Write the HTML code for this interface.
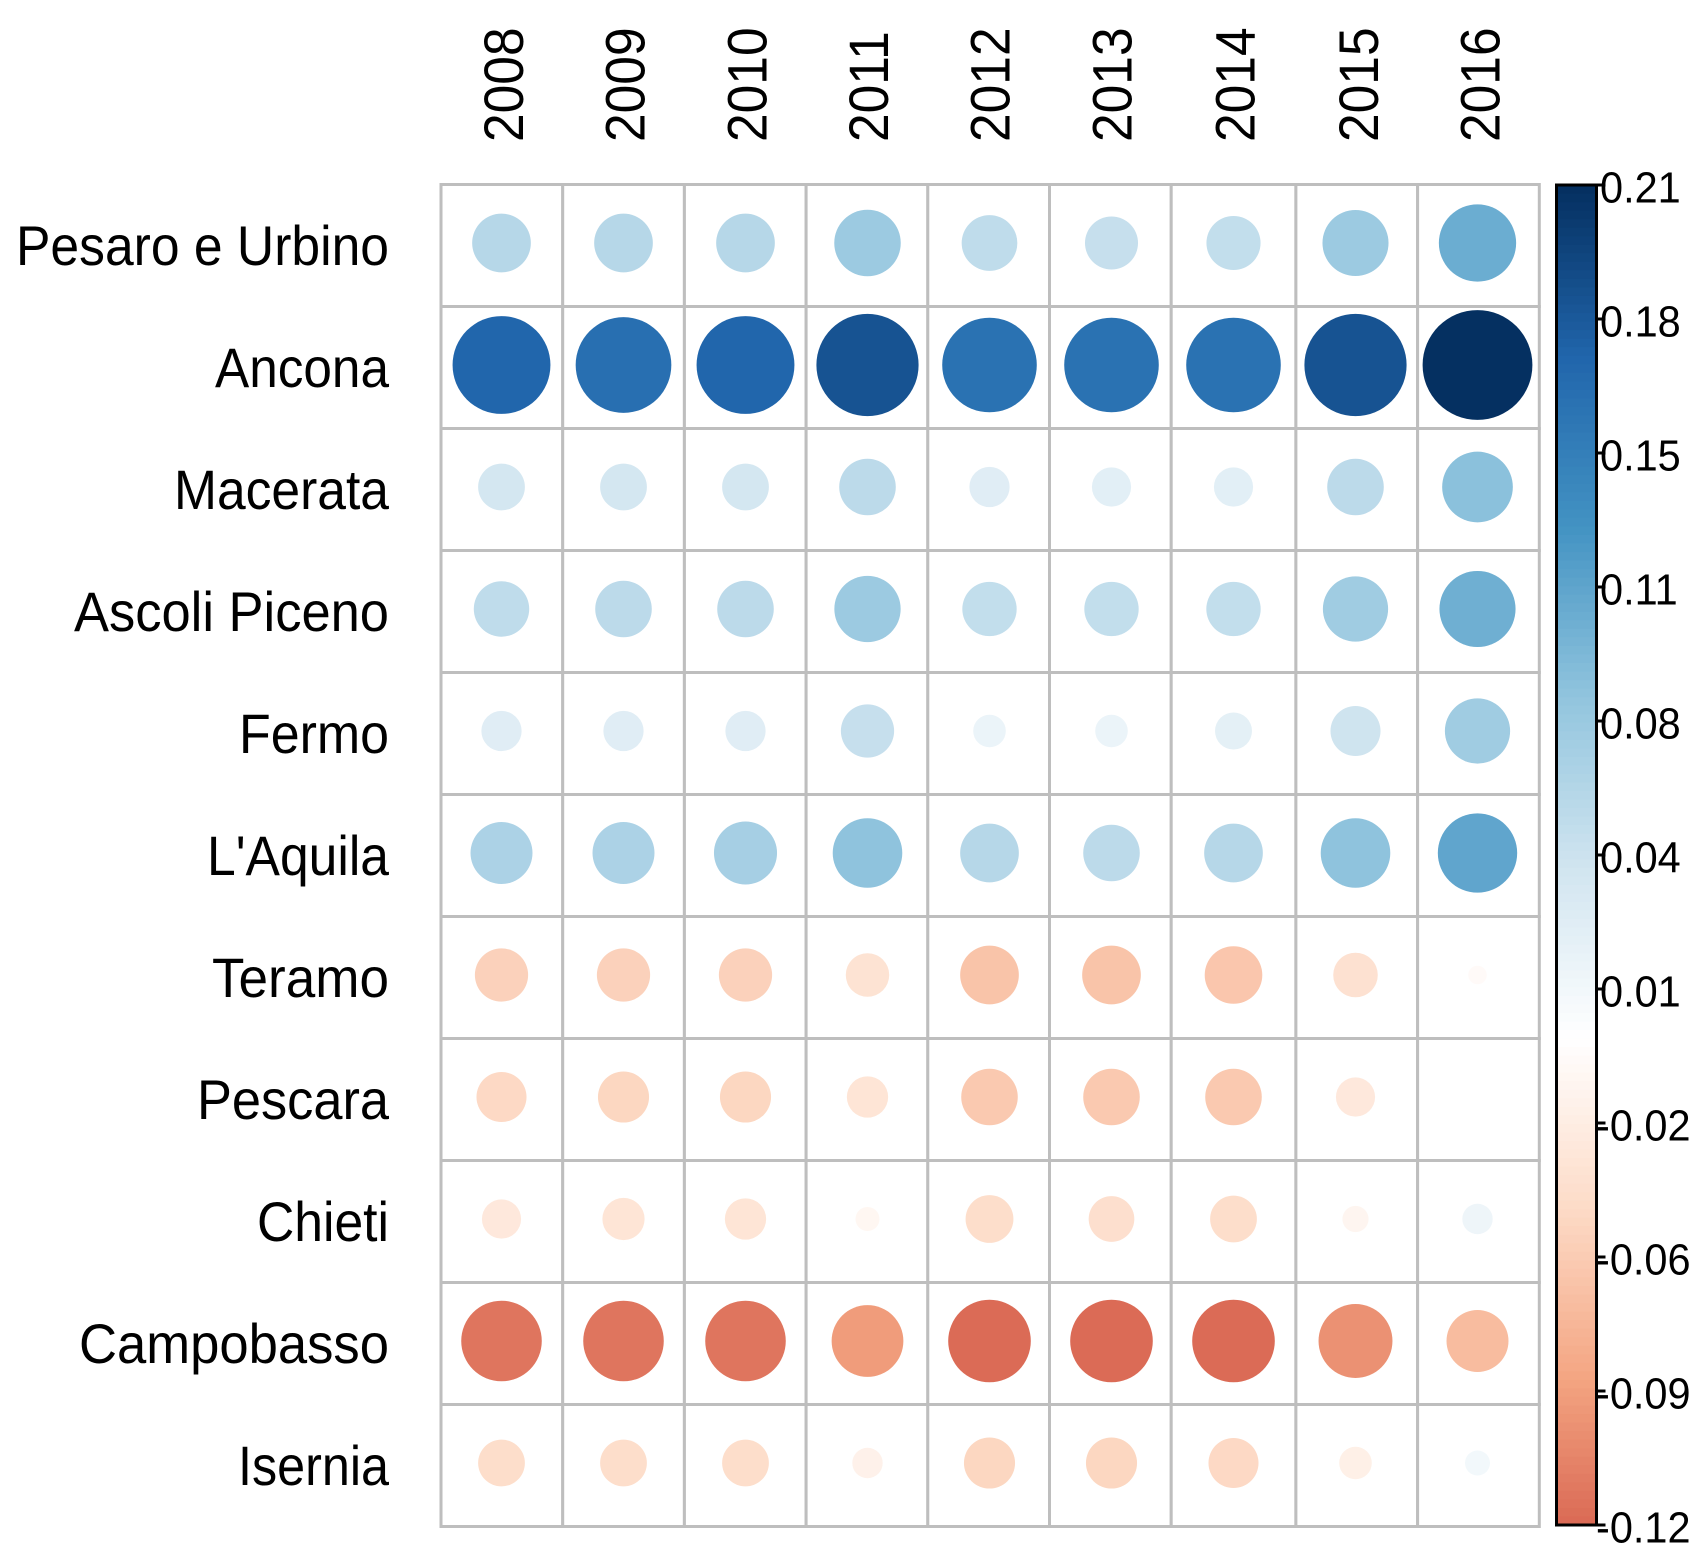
<!DOCTYPE html>
<html>
<head>
<meta charset="utf-8">
<title>Correlation plot by province and year</title>
<style>
html,body{margin:0;padding:0;background:#fff;}
svg{display:block;font-family:"Liberation Sans",Arial,sans-serif;fill:#000;}
</style>
</head>
<body>
<svg id="chart" xmlns="http://www.w3.org/2000/svg" width="1702" height="1560" viewBox="0 0 1702 1560"></svg>
<script>
const years = ["2008","2009","2010","2011","2012","2013","2014","2015","2016"];
const provinces = ["Pesaro e Urbino","Ancona","Macerata","Ascoli Piceno","Fermo","L'Aquila","Teramo","Pescara","Chieti","Campobasso","Isernia"];
const pesaroValues = [0.0600,0.0600,0.0600,0.0770,0.0540,0.0490,0.0510,0.0760,0.1040];
const anconaValues = [0.1668,0.1594,0.1668,0.1819,0.1558,0.1558,0.1558,0.1819,0.2100];
const macerataValues = [0.0381,0.0381,0.0381,0.0557,0.0282,0.0267,0.0267,0.0557,0.0870];
const ascoliValues = [0.0535,0.0557,0.0557,0.0766,0.0515,0.0515,0.0515,0.0741,0.1009];
const fermoValues = [0.0282,0.0282,0.0282,0.0494,0.0185,0.0185,0.0238,0.0436,0.0741];
const aquilaValues = [0.0669,0.0669,0.0693,0.0843,0.0600,0.0557,0.0600,0.0843,0.1097];
const teramoValues = [-0.0494,-0.0494,-0.0494,-0.0329,-0.0600,-0.0600,-0.0578,-0.0346,-0.0060];
const pescaraValues = [-0.0436,-0.0455,-0.0455,-0.0297,-0.0557,-0.0557,-0.0557,-0.0267,0];
const chietiValues = [-0.0267,-0.0310,-0.0297,-0.0100,-0.0399,-0.0363,-0.0381,-0.0119,0.0161];
const campobassoValues = [-0.1130,-0.1130,-0.1130,-0.0897,-0.1189,-0.1189,-0.1189,-0.0952,-0.0669];
const iserniaValues = [-0.0381,-0.0381,-0.0381,-0.0161,-0.0455,-0.0455,-0.0436,-0.0185,0.0109];
const seriesByRow = [pesaroValues,anconaValues,macerataValues,ascoliValues,fermoValues,aquilaValues,teramoValues,pescaraValues,chietiValues,campobassoValues,iserniaValues];
const legendTickValues = [0.21,0.177,0.144,0.111,0.078,0.045,0.012,-0.021,-0.054,-0.087,-0.12];
const legendTickLabels = ["0.21","0.18","0.15","0.11","0.08","0.04","0.01","-0.02","-0.06","-0.09","-0.12"];
const colorStops = ["#67001F","#B2182B","#D6604D","#F4A582","#FDDBC7","#FFFFFF","#D1E5F0","#92C5DE","#4393C3","#2166AC","#053061"];

const NS = "http://www.w3.org/2000/svg";
const svg = document.getElementById("chart");
const gridLeft = 441, gridTop = 184.5, cellSize = 122;
const maxAbs = 0.21;
const legendMax = 0.21, legendMin = -0.12;
const legendTop = 185, legendBottom = 1525, legendLeft = 1556.5, legendRight = 1596.5;
const rowLabelFit = [373,174,215,315,150,182,177,192,132,310,151];

function gridLineX(i){ return gridLeft + 121.7 * i + (i >= 7 ? 3 : 0); }
function xScale(i){ return gridLeft + cellSize * (i + 0.5); }
function yScale(j){ return gridTop + cellSize * (j + 0.5); }
function rScale(v){ return 0.45 * cellSize * Math.sqrt(Math.abs(v) / maxAbs); }
function legendY(v){ return legendTop + (legendMax - v) / (legendMax - legendMin) * (legendBottom - legendTop); }
function hexToRgb(h){ return [parseInt(h.slice(1,3),16),parseInt(h.slice(3,5),16),parseInt(h.slice(5,7),16)]; }
function colorScale(v){
  const level = Math.min(199, Math.max(0, Math.floor((v + maxAbs) / (2 * maxAbs) * 200)));
  const t = level / 199 * (colorStops.length - 1);
  const k = Math.min(colorStops.length - 2, Math.floor(t));
  const a = hexToRgb(colorStops[k]), b = hexToRgb(colorStops[k + 1]);
  const f = t - k;
  return "rgb(" + a.map((c, n) => Math.round(c + (b[n] - c) * f)).join(",") + ")";
}
function make(tag, attrs, parent){
  const el = document.createElementNS(NS, tag);
  for (const key in attrs) el.setAttribute(key, attrs[key]);
  (parent || svg).appendChild(el);
  return el;
}

// grid cells
const gridGroup = make("g", {});


provinces.forEach((p, j) => {
  years.forEach((y, i) => {
    const cell = make("rect", {x: gridLineX(i), y: gridTop + j * cellSize, width: gridLineX(i + 1) - gridLineX(i), height: cellSize, fill: "#fff", stroke: "#bebebe", "stroke-width": 3}, gridGroup);
    
    
  });
});

// circles
const markGroup = make("g", {});


seriesByRow.forEach((row, j) => {
  row.forEach((v, i) => {
    if (v === 0) return;
    const c = make("circle", {cx: xScale(i) - 0.5, cy: yScale(j) - 2.5, r: rScale(v), fill: colorScale(v)}, markGroup);
    
    
  });
});

// column labels
years.forEach((y, i) => {
  const bx = (gridLineX(i) + gridLineX(i + 1)) / 2 + 21;
  const t = make("text", {x: 0, y: 0, "font-size": 56, transform: "translate(" + bx + ",142) rotate(-90) scale(0.92,1)"});
  t.textContent = y;
  
  
});

// row labels
provinces.forEach((p, j) => {
  const t = make("text", {x: 389, y: yScale(j) + 19.5, "font-size": 56, "text-anchor": "end", textLength: rowLabelFit[j], lengthAdjust: "spacingAndGlyphs"});
  t.textContent = p;
  
  
});

// legend colour bar
const legendGroup = make("g", {});


const legendSteps = 157;
for (let s = 0; s < legendSteps; s++) {
  const top = legendMax - (legendMax - legendMin) * s / legendSteps;
  const bottom = legendMax - (legendMax - legendMin) * (s + 1) / legendSteps;
  const swatch = make("rect", {x: legendLeft, y: legendY(top), width: legendRight - legendLeft, height: legendY(bottom) - legendY(top) + 0.6, fill: colorScale((top + bottom) / 2)}, legendGroup);
  
  
}
const legendFrame = make("rect", {x: legendLeft, y: legendTop, width: legendRight - legendLeft, height: legendBottom - legendTop, fill: "none", stroke: "#000", "stroke-width": 3}, legendGroup);



legendTickValues.forEach((v, k) => {
  const y = legendY(v);
  const tick = make("line", {x1: legendRight, x2: legendRight + 9, y1: y, y2: y, stroke: "#000", "stroke-width": 3}, legendGroup);
  
  
  const lx = legendTickLabels[k].charAt(0) === "-" ? 1596 : 1600;
  const label = make("text", {x: 0, y: 0, "font-size": 44, transform: "translate(" + lx + "," + (y + 17.5) + ") scale(0.943,1)"}, legendGroup);
  label.textContent = legendTickLabels[k];
  
  
});
</script>
</body>
</html>
